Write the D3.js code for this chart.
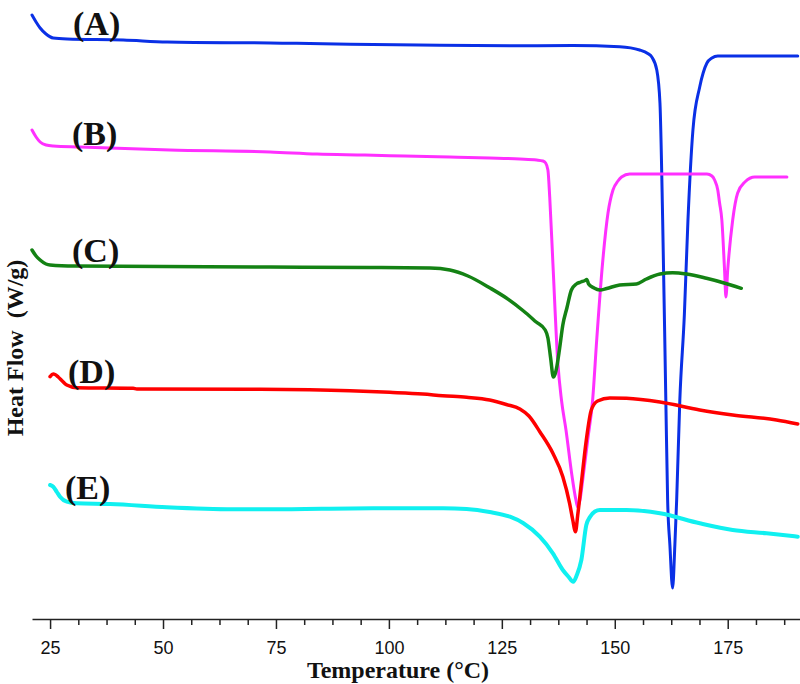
<!DOCTYPE html>
<html>
<head>
<meta charset="utf-8">
<script src="https://cdn.jsdelivr.net/npm/d3@7"></script>
<style>
  body { margin: 0; background: #fff; }
  svg { display: block; }
</style>
</head>
<body>
<script>
// DSC thermograms, temperature (°C) vs heat flow (W/g, curves stacked with offsets)
const labels = ["(A)", "(B)", "(C)", "(D)", "(E)"]
const colors = ["#0a30e6", "#ff30ff", "#148214", "#ff0000", "#10f0f0"]
const xTicks = [25, 50, 75, 100, 125, 150, 175]

const tempA = [21.0, 21.9, 22.8, 24.1, 25.7, 28.8, 41.2, 50.9, 73.7, 79.6, 91.4, 111.3, 129.0, 140.7, 151.1, 155.5, 157.3, 158.2, 159.3, 160.0, 160.6, 161.3, 161.7, 162.2, 162.8, 163.3, 163.7, 164.4, 165.4, 166.2, 167.3, 168.8, 170.4, 171.5, 172.8, 190.5]
const flowA = [59.7, 59.0, 58.4, 57.8, 57.4, 57.3, 57.2, 57.0, 56.9, 56.87, 56.77, 56.67, 56.63, 56.65, 56.53, 56.2, 55.85, 55.5, 54.2, 50.9, 39.2, 21.2, 11.2, 6.7, 2.4, 6.7, 11.2, 21.2, 29.7, 39.2, 48.2, 52.5, 54.9, 55.4, 55.6, 55.6]

const tempB = [21.0, 21.9, 22.8, 24.1, 25.7, 31.6, 51.5, 73.7, 84.1, 94.7, 103.5, 113.5, 122.3, 129.0, 132.7, 134.1, 134.7, 135.2, 135.6, 136.3, 137.4, 138.2, 139.2, 140.5, 141.4, 141.8, 142.3, 142.9, 144.0, 145.1, 146.0, 147.3, 148.5, 149.6, 150.7, 151.5, 153.3, 170.4, 171.5, 172.1, 172.8, 173.2, 173.7, 174.3, 174.6, 175.0, 176.1, 177.2, 178.8, 181.0, 188.1]
const flowB = [48.2, 47.5, 47.0, 46.7, 46.6, 46.5, 46.2, 46.0, 45.8, 45.7, 45.6, 45.5, 45.4, 45.3, 45.2, 45.1, 44.9, 44.2, 41.5, 34.9, 24.9, 21.2, 18.2, 13.7, 11.2, 10.5, 11.2, 13.2, 17.2, 21.2, 27.2, 34.9, 39.9, 42.2, 43.1, 43.5, 43.8, 43.8, 43.6, 43.2, 42.2, 40.9, 39.2, 34.2, 31.5, 34.2, 39.2, 41.9, 43.0, 43.5, 43.5]

const tempC = [21.0, 21.9, 22.8, 24.1, 25.0, 30.5, 73.7, 95.8, 109.1, 113.5, 117.5, 122.4, 126.0, 129.8, 132.6, 134.6, 135.2, 135.8, 136.4, 136.8, 137.2, 137.8, 138.5, 139.4, 140.4, 141.5, 142.5, 143.4, 143.8, 144.2, 145.4, 146.7, 148.2, 151.1, 154.8, 157.0, 160.0, 162.8, 165.9, 170.3, 174.0, 178.0]
const flowC = [36.2, 35.6, 35.2, 34.8, 34.7, 34.6, 34.5, 34.45, 34.4, 34.2, 33.6, 32.4, 31.4, 30.1, 29.0, 28.2, 27.4, 25.4, 23.5, 23.8, 24.6, 26.4, 28.7, 30.4, 32.2, 32.8, 33.0, 33.15, 33.25, 32.8, 32.4, 32.2, 32.35, 32.7, 32.8, 33.3, 33.8, 33.93, 33.8, 33.37, 32.93, 32.37]

const tempD = [25.0, 25.7, 26.1, 26.8, 27.7, 28.7, 30.9, 43.4, 44.2, 71.5, 91.4, 100.2, 107.5, 111.9, 117.2, 122.3, 126.0, 129.0, 131.0, 133.4, 136.3, 138.5, 140.0, 140.7, 141.3, 141.8, 142.6, 143.7, 144.8, 146.2, 148.9, 152.6, 160.0, 168.8, 176.1, 185.8, 190.5]
const flowD = [23.53, 23.8, 23.75, 23.5, 23.1, 22.7, 22.43, 22.37, 22.3, 22.27, 22.13, 21.97, 21.8, 21.63, 21.47, 21.2, 20.75, 20.3, 19.6, 18.03, 15.87, 13.53, 10.87, 9.2, 8.03, 9.7, 12.9, 17.2, 20.2, 21.1, 21.4, 21.37, 21.0, 20.2, 19.7, 19.2, 18.8]

const tempE = [25.0, 25.7, 26.5, 27.2, 28.7, 30.9, 38.3, 50.8, 65.5, 73.7, 96.5, 112.0, 117.2, 122.3, 126.8, 129.7, 133.4, 136.3, 138.5, 139.8, 140.8, 141.6, 142.6, 143.7, 144.5, 145.6, 146.7, 152.6, 160.0, 168.8, 176.1, 183.6, 190.5]
const flowE = [12.7, 12.53, 12.0, 11.53, 11.03, 10.87, 10.8, 10.47, 10.27, 10.27, 10.37, 10.37, 10.3, 10.0, 9.53, 8.9, 7.53, 5.87, 4.2, 3.5, 3.03, 3.7, 5.2, 8.7, 9.5, 10.05, 10.2, 10.2, 9.87, 8.87, 8.2, 7.87, 7.53]

const temps = [tempA, tempB, tempC, tempD, tempE]
const flows = [flowA, flowB, flowC, flowD, flowE]
const widths = [3, 3, 3.5, 3.5, 4]
const labelX = [73, 72, 72, 68, 65]

const width = 800, height = 684
const svg = d3.select("body").append("svg")
    .attr("width", width)
    .attr("height", height)

const x = d3.scaleLinear().domain([21, 191]).range([32, 800])
const y = d3.scaleLinear().domain([0, 60]).range([612, 12])

const series = labels.map((name, i) => ({
    name,
    color: colors[i],
    points: temps[i].map((t, j) => [t, flows[i][j]])
}))

const line = d3.line()
    .x((d) => x(d[0]))
    .y((d) => y(d[1]))
    .curve(d3.curveMonotoneX)

svg.append("g")
    .selectAll("path")
    .data(series)
    .join("path")
    .attr("d", (d) => line(d.points))
    .attr("fill", "none")
    .attr("stroke", (d) => d.color)
    .attr("stroke-width", (_, i) => widths[i])
    .attr("stroke-linejoin", "round")
    .attr("stroke-linecap", "round")

// curve labels sit just above each curve's starting plateau
svg.append("g")
    .selectAll("text")
    .data(series)
    .join("text")
    .attr("x", (_, i) => labelX[i])
    .attr("y", (d) => y(d.points[6][1]) - 5)
    .style("font-family", "'Liberation Serif', 'Times New Roman', serif")
    .style("font-weight", "bold")
    .style("font-size", "34px")
    .attr("fill", "#111")
    .text((d) => d.name)

// x axis: major ticks with labels, minor ticks in between
const axisY = 619
const minor = d3.range(25, 191, 6.25).filter((v) => !xTicks.includes(v))
svg.append("g")
    .attr("transform", `translate(0,${axisY})`)
    .call(d3.axisBottom(x).tickValues(minor).tickSize(6).tickFormat(""))
    .call((g) => g.select(".domain").remove())
    .call((g) => g.selectAll("line").attr("stroke", "#222").attr("stroke-width", 1.5))
const axis = svg.append("g")
    .attr("transform", `translate(0,${axisY})`)
    .call(d3.axisBottom(x).tickValues(xTicks).tickSize(10).tickSizeOuter(0).tickPadding(12))
axis.select(".domain").attr("stroke", "#222").attr("stroke-width", 1.5)
axis.selectAll("line").attr("stroke", "#222").attr("stroke-width", 1.5)
axis.selectAll("text")
    .style("font-family", "'Liberation Sans', Arial, sans-serif")
    .style("font-size", "18px")
    .attr("fill", "#111")

svg.append("text")
    .attr("x", 398)
    .attr("y", 678)
    .attr("text-anchor", "middle")
    .style("font-family", "'Liberation Serif', 'Times New Roman', serif")
    .style("font-weight", "bold")
    .style("font-size", "24px")
    .attr("fill", "#111")
    .text("Temperature (°C)")

svg.append("text")
    .attr("transform", "translate(23,348) rotate(-90)")
    .attr("text-anchor", "middle")
    .style("font-family", "'Liberation Serif', 'Times New Roman', serif")
    .style("font-weight", "bold")
    .style("font-size", "24px")
    .style("white-space", "pre")
    .attr("fill", "#111")
    .text("Heat Flow  (W/g)")
</script>
</body>
</html>
